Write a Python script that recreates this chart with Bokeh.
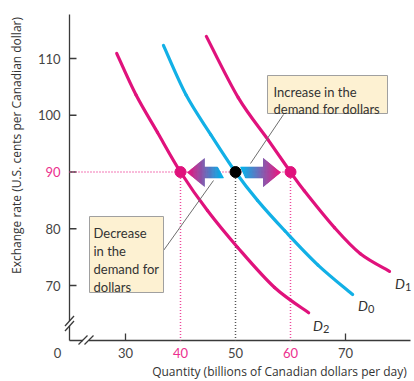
from bokeh.plotting import figure
from bokeh.models import Range1d
from bokeh.core.properties import value
from bokeh.embed import file_html
from bokeh.resources import INLINE
import math

# ---- data -------------------------------------------------------------
# Demand curves for Canadian dollars: quantity (billions per day) and
# exchange rate (U.S. cents per Canadian dollar)
d0_quantity = [36.9, 41.0, 45.5, 50.0, 54.0, 59.0, 65.0, 71.3]
d0_rate = [112.3, 103.6, 96.6, 90.0, 85.0, 79.6, 73.6, 68.4]

d1_quantity = [44.7, 50.5, 55.9, 60.0, 62.5, 68.0, 72.7, 78.0]
d1_rate = [113.9, 103.1, 95.7, 90.0, 86.7, 80.2, 75.6, 72.5]

d2_quantity = [28.4, 31.9, 35.8, 40.0, 44.9, 50.4, 57.1, 63.3]
d2_rate = [110.9, 103.6, 97.0, 90.0, 83.2, 76.7, 69.65, 65.2]

# Equilibria at an exchange rate of 90 cents
eq_rate = 90
eq_quantity_d0 = 50
eq_quantity_d1 = 60
eq_quantity_d2 = 40

x_tick_values = [30, 40, 50, 60, 70]
x_tick_labels = ["30", "40", "50", "60", "70"]
x_tick_marks = [30, 70]
y_tick_values = [70, 80, 90, 100, 110]
y_tick_labels = ["70", "80", "90", "100", "110"]

# ---- style ------------------------------------------------------------
MAGENTA = "#e0127c"
CYAN = "#12b0e6"
PINK_DOT = "#ee4a9c"
PINK_TEXT = "#ec2f8e"
AXIS = "#3a3a3a"
TEXT = "#333333"
FONT = value("Lato")
TITLE_FONT = value("Open Sans")

W, H = 414, 381

# pixel layout <-> data mapping (30 at x=125px, 5.5 px per unit;
# 110 at y=58px, 5.675 px per unit)
def X(px):
    return 30 + (px - 125) / 5.5

def Y(py):
    return 110 - (py - 58) / 5.675

p = figure(width=W, height=H, output_backend="svg", toolbar_location=None,
           x_range=Range1d(X(0), X(W)), y_range=Range1d(Y(H), Y(0)),
           x_axis_type=None, y_axis_type=None, min_border=0)
p.outline_line_color = None
p.background_fill_color = "white"
p.border_fill_color = "white"

AX_X = X(69)      # vertical axis position
AX_Y = Y(340)     # horizontal axis position

# ---- axes with break marks ---------------------------------------------
p.segment(x0=[AX_X, AX_X], y0=[Y(14), Y(325.5)], x1=[AX_X, AX_X], y1=[Y(320.5), AX_Y],
          line_color=AXIS, line_width=1.3)
p.segment(x0=[AX_X, X(88.5)], y0=[AX_Y, AX_Y], x1=[X(82.5), X(410)], y1=[AX_Y, AX_Y],
          line_color=AXIS, line_width=1.3)
# y-axis break
for cy in (320.5, 325.5):
    p.segment(x0=[X(64.5)], y0=[Y(cy + 5)], x1=[X(73.5)], y1=[Y(cy - 5)],
              line_color=AXIS, line_width=1.3)
# x-axis break
for cx in (82.5, 88.5):
    p.segment(x0=[X(cx - 4.5)], y0=[Y(344)], x1=[X(cx + 4.5)], y1=[Y(335)],
              line_color=AXIS, line_width=1.3)

# tick marks (pointing inward)
tick_len_y = 7 / 5.675
tick_len_x = 7 / 5.5
p.segment(x0=x_tick_marks, y0=[AX_Y] * len(x_tick_marks),
          x1=x_tick_marks, y1=[AX_Y + tick_len_y] * len(x_tick_marks),
          line_color=AXIS, line_width=1.3)
p.segment(x0=[AX_X] * len(y_tick_values), y0=y_tick_values,
          x1=[AX_X + tick_len_x] * len(y_tick_values), y1=y_tick_values,
          line_color=AXIS, line_width=1.3)

# tick labels
highlight = {eq_quantity_d1, eq_quantity_d2}
x_lab_colors = [PINK_TEXT if v in highlight else "#444444" for v in x_tick_values]
p.text(x=x_tick_values, y=[Y(352)] * len(x_tick_values), text=x_tick_labels,
       text_font=FONT, text_font_size="13px", text_color=x_lab_colors,
       text_align="center", text_baseline="middle")
y_lab_colors = [PINK_TEXT if v == eq_rate else "#444444" for v in y_tick_values]
p.text(x=[X(60)] * len(y_tick_values), y=y_tick_values, text=y_tick_labels,
       text_font=FONT, text_font_size="13px", text_color=y_lab_colors,
       text_align="right", text_baseline="middle")
p.text(x=[X(57)], y=[Y(352)], text=["0"], text_font=FONT, text_font_size="13px",
       text_color="#444444", text_align="center", text_baseline="middle")

# axis titles
p.text(x=[X(279)], y=[Y(371)], text=["Quantity (billions of Canadian dollars per day)"],
       text_font=TITLE_FONT, text_font_size="12px", text_color=TEXT,
       text_align="center", text_baseline="middle")
p.text(x=[X(16)], y=[Y(145)], text=["Exchange rate (U.S. cents per Canadian dollar)"],
       text_font=TITLE_FONT, text_font_size="12px", text_color=TEXT, angle=math.pi / 2,
       text_align="center", text_baseline="middle")

# ---- guide lines at the equilibria ----------------------------------------
p.segment(x0=[AX_X], y0=[eq_rate], x1=[eq_quantity_d1], y1=[eq_rate],
          line_color=PINK_DOT, line_width=1.5, line_dash="1 2")
p.segment(x0=[eq_quantity_d2, eq_quantity_d1], y0=[eq_rate, eq_rate],
          x1=[eq_quantity_d2, eq_quantity_d1], y1=[AX_Y, AX_Y],
          line_color=PINK_DOT, line_width=1.5, line_dash="1 2")
p.segment(x0=[eq_quantity_d0], y0=[eq_rate], x1=[eq_quantity_d0], y1=[AX_Y],
          line_color="#555555", line_width=1.5, line_dash="1 2")


# ---- demand curves (smooth Catmull-Rom path through the points) ----------
def smooth_curve(xs, ys, color):
    n = len(xs)
    px = [xs[0]] + list(xs) + [xs[-1]]
    py = [ys[0]] + list(ys) + [ys[-1]]
    x0, y0, x1, y1, cx0, cy0, cx1, cy1 = ([] for _ in range(8))
    for i in range(1, n):
        x0.append(px[i]); y0.append(py[i])
        x1.append(px[i + 1]); y1.append(py[i + 1])
        cx0.append(px[i] + (px[i + 1] - px[i - 1]) / 6)
        cy0.append(py[i] + (py[i + 1] - py[i - 1]) / 6)
        cx1.append(px[i + 1] - (px[i + 2] - px[i]) / 6)
        cy1.append(py[i + 1] - (py[i + 2] - py[i]) / 6)
    p.bezier(x0=x0, y0=y0, x1=x1, y1=y1, cx0=cx0, cy0=cy0, cx1=cx1, cy1=cy1,
             line_color=color, line_width=3.2, line_cap="round")


smooth_curve(d2_quantity, d2_rate, MAGENTA)
smooth_curve(d0_quantity, d0_rate, CYAN)
smooth_curve(d1_quantity, d1_rate, MAGENTA)

# curve names
def curve_name(px, py, sub):
    p.text(x=[X(px)], y=[Y(py)], text=["D"], text_font=FONT, text_font_size="14px",
           text_font_style="italic", text_color=TEXT,
           text_align="left", text_baseline="alphabetic")
    p.text(x=[X(px + 10)], y=[Y(py + 4)], text=[sub], text_font=FONT,
           text_font_size="11px", text_color=TEXT,
           text_align="left", text_baseline="alphabetic")

curve_name(394.5, 282.5, "1")
curve_name(357.5, 304.5, "0")
curve_name(312.5, 324.5, "2")


# ---- shift arrows with a cyan-to-magenta gradient --------------------------
def clip_x(poly, a, keep_greater):
    out = []
    m = len(poly)
    for i in range(m):
        cur, nxt = poly[i], poly[(i + 1) % m]
        cin = cur[0] >= a if keep_greater else cur[0] <= a
        nin = nxt[0] >= a if keep_greater else nxt[0] <= a
        if cin:
            out.append(cur)
        if cin != nin:
            t = (a - cur[0]) / (nxt[0] - cur[0])
            out.append((a, cur[1] + t * (nxt[1] - cur[1])))
    return out


def lerp_color(c0, c1, t):
    t = max(0.0, min(1.0, t))
    r, g, b = (round(c0[k] + (c1[k] - c0[k]) * t) for k in range(3))
    return "#%02x%02x%02x" % (r, g, b)


def gradient_arrow(poly_px, x_head, x_tail, slices=40):
    mag = (224, 21, 127)
    cyn = (0, 174, 232)
    lo = min(pt[0] for pt in poly_px)
    hi = max(pt[0] for pt in poly_px)
    step = (hi - lo) / slices
    xs_list, ys_list, colors = [], [], []
    for k in range(slices):
        a, b = lo + k * step, lo + (k + 1) * step
        piece = clip_x(clip_x(poly_px, a, True), b, False)
        if len(piece) < 3:
            continue
        mid = (a + b) / 2
        col = lerp_color(mag, cyn, (mid - x_head) / (x_tail - x_head))
        xs_list.append([X(pt[0]) for pt in piece])
        ys_list.append([Y(pt[1]) for pt in piece])
        colors.append(col)
    p.patches(xs=xs_list, ys=ys_list, fill_color=colors, line_color=colors,
              line_width=0.6)


cy = 172
left_arrow = [(187, cy), (204, cy - 14), (204, cy - 5.5), (217, cy - 5.5),
              (223, cy + 5.5), (204, cy + 5.5), (204, cy + 14)]
right_arrow = [(240, cy - 5.5), (263, cy - 5.5), (263, cy - 14), (280, cy),
               (263, cy + 14), (263, cy + 5.5), (245, cy + 5.5)]
gradient_arrow(left_arrow, 189, 221)
gradient_arrow(right_arrow, 278, 242)

# ---- callout boxes ----------------------------------------------------
p.segment(x0=[X(283), X(163)], y0=[Y(114), Y(250)], x1=[X(250), X(213)], y1=[Y(163), Y(180)],
          line_color="#6e6e6e", line_width=1)

p.quad(left=[X(267)], right=[X(387)], top=[Y(75)], bottom=[Y(113)],
       fill_color="#fdf1d2", line_color="#a0a0a0", line_width=1)
p.text(x=[X(273)] * 2, y=[Y(91.5), Y(108.5)],
       text=["Increase in the", "demand for dollars"],
       text_font=FONT, text_font_size="13px", text_color=TEXT,
       text_align="left", text_baseline="alphabetic")

p.quad(left=[X(89)], right=[X(163)], top=[Y(216)], bottom=[Y(292)],
       fill_color="#fdf1d2", line_color="#a0a0a0", line_width=1)
p.text(x=[X(93)] * 4, y=[Y(232), Y(250), Y(268), Y(286)],
       text=["Decrease", "in the", "demand for", "dollars"],
       text_font=FONT, text_font_size="13px", text_color=TEXT,
       text_align="left", text_baseline="alphabetic")

# ---- equilibrium points ----------------------------------------------------
p.scatter(x=[eq_quantity_d2, eq_quantity_d1], y=[eq_rate, eq_rate], size=11,
          fill_color=MAGENTA, line_color=MAGENTA)
p.scatter(x=[eq_quantity_d0], y=[eq_rate], size=11, fill_color="black", line_color="black")

open("out.html", "w").write(file_html(p, INLINE))
